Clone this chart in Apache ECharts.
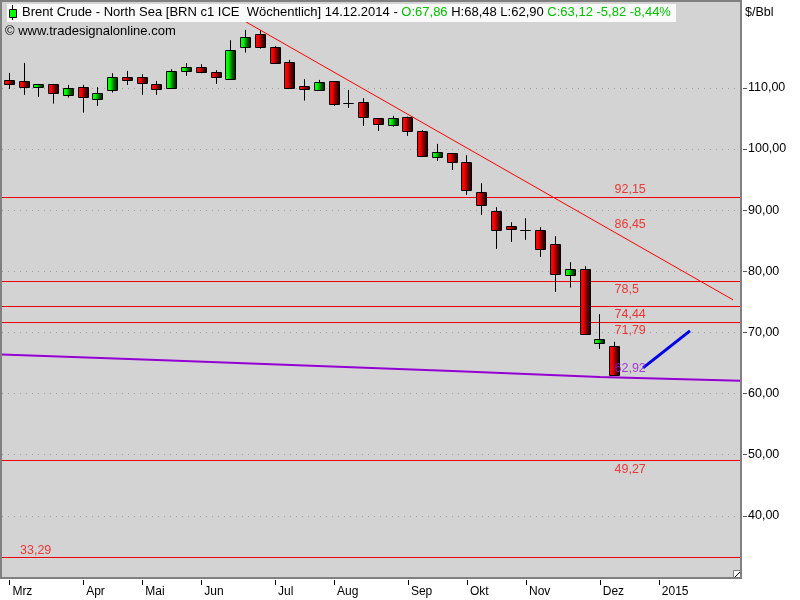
<!DOCTYPE html>
<html>
<head>
<meta charset="utf-8">
<style>html,body{margin:0;padding:0;background:#fff}#c{width:800px;height:600px}</style>
<script src="https://cdn.jsdelivr.net/npm/echarts@6/dist/echarts.min.js"></script>
</head>
<body>
<div id="c"></div>
<script>
const opens  = [111.26,111.10,110.21,110.61,108.90,110.11,108.25,109.72,111.75,111.75,110.61,110.05,112.83,113.39,112.57,111.52,116.75,118.78,116.66,114.20,110.28,109.72,111.10,107.50,107.66,105.04,104.00,105.21,102.92,98.76,99.32,97.85,92.94,89.83,87.38,86.73,86.73,84.44,79.37,80.35,68.34,67.86];
const closes = [110.70,110.21,110.61,109.23,109.95,108.58,109.13,111.75,111.36,110.87,109.89,112.73,113.39,112.57,111.85,116.17,118.29,116.75,114.14,110.05,109.89,110.93,107.43,107.50,105.31,104.16,105.04,103.02,98.93,99.48,97.95,93.37,90.91,86.82,86.99,86.73,83.72,79.50,80.35,69.81,68.90,63.12];
const lows   = [109.84,108.86,108.53,107.43,108.41,105.96,107.06,109.23,110.49,108.86,108.86,110.05,111.96,112.40,110.65,111.52,115.77,116.43,114.14,109.89,107.92,109.56,107.06,106.73,103.78,102.97,103.67,102.15,98.71,98.06,96.59,92.50,89.23,83.67,84.81,85.14,82.36,76.63,77.34,69.60,67.31,62.90];
const highs  = [112.45,114.09,110.65,110.65,110.49,110.49,110.11,112.40,112.78,112.24,111.14,113.06,114.04,113.88,112.89,117.80,119.49,119.49,116.87,114.58,111.42,111.31,111.10,109.67,108.32,105.04,105.42,105.31,103.08,100.84,99.32,98.99,94.41,90.49,88.03,88.69,87.22,85.74,81.49,80.84,72.99,68.48];

const monthIndex  = [0,5,9,13,18,22,27,31,35,40,44];
const monthLabels = ['Mrz','Apr','Mai','Jun','Jul','Aug','Sep','Okt','Nov','Dez','2015'];
const bandCount = 50;

const yTickLabels = [110,100,90,80,70,60,50,40];

const levels = [92.07,78.33,74.24,71.62,49.06,33.19];

const levelLabels = [
  ['92,15',41.0,93.32,'#f01010'],
  ['86,45',41.0,87.60,'#f01010'],
  ['78,5', 41.0,76.97,'#f01010'],
  ['74,44',41.0,72.88,'#f01010'],
  ['71,79',41.0,70.26,'#f01010'],
  ['62,92',41.0,64.04,'#9a10d8'],
  ['49,27',41.0,47.52,'#f01010'],
  ['33,29',0.72,34.28,'#f01010']
];

const purpleX = [-0.5,10,20,30,40,49.5];
const purpleY = [66.39,65.51,64.61,63.71,62.73,62.08];
const trendX = [16.03,49.03];
const trendY = [120.79,75.33];
const blueX = [42.93,46.11];
const blueY = [64.20,70.25];

const cats = [];
for (let i = 0; i < bandCount; i++) {
  const k = monthIndex.indexOf(i);
  cats.push(k >= 0 ? monthLabels[k] : '');
}
const isMonth = (i) => monthIndex.indexOf(i) >= 0;

const lineSeries = (xs, ys, color, width, z) => ({
  type: 'line', xAxisIndex: 1, yAxisIndex: 0, symbol: 'none', silent: true, z: z,
  animation: false,
  lineStyle: {color: color, width: width},
  data: xs.map((x, i) => [x, ys[i]])
});

const upStops = ['#00ff00','#00ff00','#00f000','#00d000','#00a800','#008000','#006000','#004800','#003000'];
const downStops = ['#ff0000','#ff0000','#f00000','#d00000','#a80000','#800000','#600000','#480000','#300000'];

function renderCandle(params, api) {
  const i = api.value(0), o = api.value(1), c = api.value(2), l = api.value(3), h = api.value(4);
  const cx = Math.floor(api.coord([i, o])[0]);
  const yO = api.coord([i, o])[1], yC = api.coord([i, c])[1];
  const yL = api.coord([i, l])[1], yH = api.coord([i, h])[1];
  const top = Math.round(Math.min(yO, yC)) + 0.5;
  const bot = Math.round(Math.max(yO, yC)) + 0.5;
  const stops = c > o ? upStops : downStops;
  const children = [
    {type: 'line', shape: {x1: cx + 0.5, y1: yH, x2: cx + 0.5, y2: yL}, style: {stroke: '#000', lineWidth: 1}}
  ];
  // body: vertical one-pixel colour strips from light to dark, then the black outline
  stops.forEach((col, k) => {
    children.push({type: 'rect', shape: {x: cx - 4 + k, y: top, width: 1, height: bot - top}, style: {fill: col}});
  });
  children.push({type: 'rect', shape: {x: cx - 4.5, y: top, width: 10, height: bot - top}, style: {fill: 'none', stroke: '#000', lineWidth: 1}});
  return {type: 'group', children: children};
}

const series = [];
levels.forEach(v => series.push(lineSeries([-0.5,49.5],[v,v],'#ee0000',1,3)));
series.push(lineSeries(purpleX,purpleY,'#9400d3',2,3));
series.push({
  type: 'custom', xAxisIndex: 0, yAxisIndex: 0, z: 4, animation: false, silent: true,
  renderItem: renderCandle,
  encode: {x: 0, y: [1,2,3,4]},
  data: opens.map((o, i) => [i, o, closes[i], lows[i], highs[i]])
});
series.push(lineSeries(trendX,trendY,'#ff0000',1,5));
series.push(lineSeries(blueX,blueY,'#0000e6',3,5));
series.push({
  type: 'scatter', xAxisIndex: 1, yAxisIndex: 0, symbolSize: 0, z: 6, animation: false, silent: true,
  data: levelLabels.map(l => ({
    value: [l[1], l[2]],
    label: {show: true, position: 'right', distance: 0, formatter: l[0], color: l[3],
            fontFamily: 'Liberation Sans', fontSize: 12.5}
  }))
});

const chart = echarts.init(document.getElementById('c'), null, {renderer: 'canvas'});
chart.setOption({
  animation: false,
  backgroundColor: '#fff',
  grid: {left: 2, top: 2, width: 738, height: 575, containLabel: false},
  title: {
    left: 22, top: 6, padding: 0, z: 12,
    text: '{a|Brent Crude - North Sea [BRN c1 ICE  Wöchentlich] 14.12.2014 - }{g|O:67,86}{a| H:68,48 L:62,90 }{g|C:63,12 -5,82 -8,44%}',
    textStyle: {
      fontWeight: 'normal',
      rich: {
        a: {color: '#000', fontFamily: 'Liberation Sans', fontSize: 13, fontWeight: 'normal'},
        g: {color: '#00c000', fontFamily: 'Liberation Sans', fontSize: 13, fontWeight: 'normal'}
      }
    }
  },
  xAxis: [{
    type: 'category', data: cats, boundaryGap: true, offset: 3,
    axisLine: {show: false, onZero: false},
    axisTick: {show: true, alignWithLabel: true, length: 5, lineStyle: {color: '#000'}, interval: (i) => isMonth(i)},
    axisLabel: {interval: (i) => isMonth(i), align: 'left', padding: [0,0,0,3], margin: 6,
                color: '#000', fontFamily: 'Liberation Sans', fontSize: 12},
    splitLine: {show: false}
  }, {
    type: 'value', show: false, min: -0.5, max: 49.5, splitLine: {show: false},
    axisLine: {onZero: false}
  }],
  yAxis: [{
    type: 'value', position: 'right', min: 30, max: 124.05, interval: 10, offset: 3,
    axisLine: {show: false, onZero: false},
    axisTick: {show: true, length: 4, lineStyle: {color: '#555'}, customValues: yTickLabels},
    axisLabel: {
      margin: 5, color: '#000', fontFamily: 'Liberation Sans', fontSize: 12.5, padding: [2,0,0,0],
      customValues: yTickLabels,
      formatter: (v) => v.toFixed(2).replace('.', ',')
    },
    splitLine: {show: true, lineStyle: {color: '#a0a0a0', width: 1, type: [1,5]}}
  }],
  graphic: [
    {type: 'rect', z: -1, silent: true, shape: {x: 1, y: 1, width: 740, height: 577}, style: {fill: '#d3d3d3'}},
    {type: 'rect', z: 10, silent: true, shape: {x: 7, y: 4, width: 669, height: 18}, style: {fill: '#fafafa'}},
    {type: 'rect', z: 20, silent: true, shape: {x: 1, y: 1, width: 740, height: 577}, style: {fill: 'none', stroke: '#808080', lineWidth: 2}},
    {type: 'line', z: 11, silent: true, shape: {x1: 12.5, y1: 5, x2: 12.5, y2: 20}, style: {stroke: '#000', lineWidth: 1}},
    {type: 'rect', z: 11, silent: true, shape: {x: 9.5, y: 9.5, width: 7, height: 8}, style: {fill: '#00ff00', stroke: '#000', lineWidth: 1}},
    {type: 'text', z: 11, silent: true, x: 5, y: 24.5, style: {text: '© www.tradesignalonline.com', fill: '#000', font: '13px "Liberation Sans"'}},
    {type: 'text', z: 11, silent: true, x: 745, y: 6, style: {text: '$/Bbl', fill: '#000', font: '12.5px "Liberation Sans"'}},
    {type: 'rect', z: 21, silent: true, shape: {x: 733.5, y: 570.5, width: 7, height: 7}, style: {fill: '#fff', stroke: '#808080', lineWidth: 1}},
    {type: 'line', z: 22, silent: true, shape: {x1: 735, y1: 577, x2: 740, y2: 572}, style: {stroke: '#000', lineWidth: 1}}
  ],
  series: series
});
</script>
</body>
</html>
